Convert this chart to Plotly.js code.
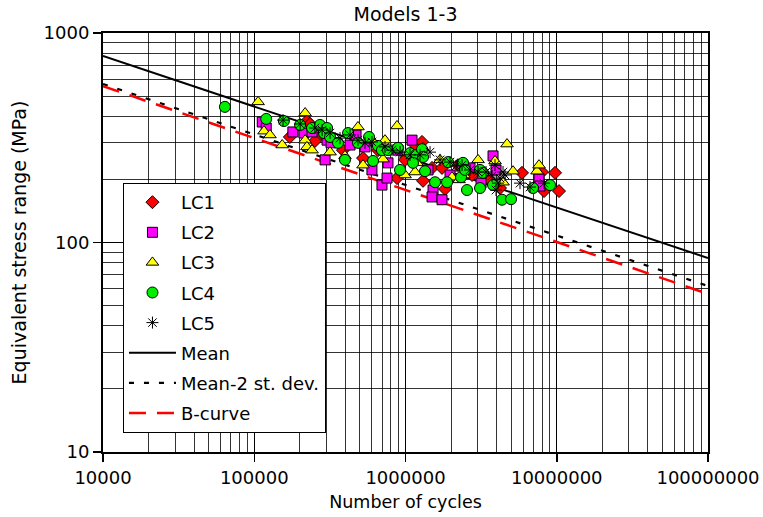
<!DOCTYPE html>
<html>
<head>
<meta charset="utf-8">
<script src="https://cdn.plot.ly/plotly-3.0.1.min.js"></script>
<style>
html,body{margin:0;padding:0;background:#fff;}
#chart{width:763px;height:517px;}
</style>
</head>
<body>
<div id="chart"></div>
<script>
// ---- Data (N = number of cycles, S = equivalent stress range in MPa) ----
const lc1N = [172000,223000,234000,252000,281000,386000,524000,658000,879000,993000,1156000,1286000,1306000,1498000,1744000,1826000,2225000,2754000,3512000,4217000,5893000,7991000,8238000,9741000,10350000];
const lc1S = [319,380,368,305,329,276,253,276,203,248,292,302,197,227,227,180,234,210,203,182,215,217,176,215,176];

const lc2N = [113000,120000,180000,213000,241000,294000,303000,322000,430000,471000,540000,600000,699000,755000,766000,892000,1104000,1409000,1521000,1498000,1744000,1970000,2365000,2671000,3158000,3791000,3968000,7634000,7751000];
const lc2S = [376,352,337,333,337,248,308,299,292,326,286,222,188,203,240,276,308,222,178,165,160,210,234,227,192,259,222,201,186];

const lc3N = [106000,116000,127000,153000,217000,217000,223000,241000,317000,398000,485000,524000,600000,710000,732000,879000,993000,1156000,1192000,1306000,1691000,2030000,2259000,2438000,3017000,3908000,4414000,4690000,5139000,7406000,7634000];
const lc3S = [469,340,326,292,415,308,286,276,270,259,356,234,308,250,308,360,210,217,240,283,248,205,199,210,248,245,194,295,219,219,234];

const lc4N = [64000,120000,157000,201000,241000,272000,303000,289000,317000,358000,417000,485000,574000,658000,699000,766000,610000,398000,892000,1071000,1174000,1286000,1306000,1121000,920000,1346000,1568000,1882000,1910000,2329000,2401000,2475000,3110000,3255000,2551000,3110000,3791000,4347000,4985000,6969000,9028000];
const lc4S = [444,389,380,364,352,364,352,333,319,299,333,299,319,289,276,276,245,248,283,267,262,279,256,240,222,219,194,194,242,205,240,222,222,215,178,182,188,160,161,182,188];

const lc5N = [155000,201000,252000,281000,317000,369000,430000,485000,540000,600000,732000,814000,920000,1071000,1247000,1453000,1691000,1970000,2158000,2365000,2671000,3017000,3407000,3734000,3908000,4090000,4217000,4414000,3968000,4550000,5716000,6658000,8238000];
const lc5S = [384,368,352,344,333,315,326,308,299,302,286,276,270,262,262,270,248,242,232,234,222,217,217,208,234,192,203,217,178,210,192,184,192];

const lineN = [10000, 100000000];
const meanS = [776, 84.3];
const mean2sdS = [571, 62];
const bCurveS = [558, 56.8];

const xTickVals = [10000, 100000, 1000000, 10000000, 100000000];
const xTickText = ['10000', '100000', '1000000', '10000000', '100000000'];
const yTickVals = [10, 100, 1000];
const yTickText = ['10', '100', '1000'];

const FONT = 'DejaVu Sans, Verdana, sans-serif';

function markerTrace(name, xs, ys, symbol, color, size, rank, group) {
  return {
    type: 'scatter', mode: 'markers', name: name, x: xs, y: ys,
    legendrank: rank, legendgroup: group,
    marker: {symbol: symbol, color: color, size: size,
             line: {color: '#000', width: 1}},
    hoverinfo: 'x+y'
  };
}

const traces = [
  {type:'scatter', mode:'lines', name:'Mean', x: lineN, y: meanS, legendrank: 6, legendgroup:'g6',
   line:{color:'#000', width:2}},
  {type:'scatter', mode:'lines', name:'Mean-2 st. dev.', x: lineN, y: mean2sdS, legendrank: 7, legendgroup:'g7',
   line:{color:'#000', width:2.2, dash:'5px,10px'}},
  {type:'scatter', mode:'lines', name:'B-curve', x: lineN, y: bCurveS, legendrank: 8, legendgroup:'g8',
   line:{color:'#ff0000', width:2.5, dash:'17px,11px'}},
  markerTrace('LC1', lc1N, lc1S, 'diamond', '#ff0000', 10, 1, 'g1'),
  markerTrace('LC2', lc2N, lc2S, 'square', '#ff00ff', 10, 2, 'g2'),
  markerTrace('LC3', lc3N, lc3S, 'triangle-up', '#ffff00', 11, 3, 'g3'),
  markerTrace('LC4', lc4N, lc4S, 'circle', '#00ee00', 11, 4, 'g4'),
  {type:'scatter', mode:'markers', name:'LC5', x: lc5N, y: lc5S, legendrank: 5, legendgroup:'g5',
   marker:{symbol:'asterisk-open', color:'#000', size:10, line:{color:'#000', width:1}}}
];

const axisCommon = {
  type: 'log', showline: true, linecolor: '#000', linewidth: 2, mirror: true,
  ticks: 'outside', ticklen: 8, tickwidth: 1.5, tickcolor: '#000',
  showgrid: true, gridcolor: '#000', gridwidth: 1, zeroline: false,
  tickfont: {family: FONT, size: 18, color: '#000'},
  minor: {showgrid: true, gridcolor: '#000', gridwidth: 0.8, dtick: 'D1', ticks: ''}
};

const layout = {
  width: 763, height: 517,
  margin: {l: 103, r: 55, t: 33, b: 65},
  paper_bgcolor: '#fff', plot_bgcolor: '#fff',
  font: {family: FONT, size: 17, color: '#000'},
  title: {text: 'Models 1-3', font: {family: FONT, size: 19, color: '#000'},
          x: 0.5315, xref: 'container', y: 0.972, yref: 'container', yanchor: 'middle', xanchor: 'center'},
  xaxis: Object.assign({}, axisCommon, {
    range: [4, 8], tickmode: 'array', tickvals: xTickVals, ticktext: xTickText,
    title: {text: 'Number of cycles', font: {family: FONT, size: 17.5, color: '#000'}, standoff: 9}
  }),
  yaxis: Object.assign({}, axisCommon, {
    range: [1, 3], tickmode: 'array', tickvals: yTickVals, ticktext: yTickText,
    title: {text: 'Equivalent stress range (MPa)', font: {family: FONT, size: 19, color: '#000'}, standoff: 12}
  }),
  showlegend: true,
  legend: {
    x: 0.033, y: 0.642, xanchor: 'left', yanchor: 'top',
    bgcolor: '#fff', bordercolor: '#000', borderwidth: 1,
    font: {family: FONT, size: 18, color: '#000'},
    traceorder: 'grouped', tracegroupgap: 3.7, itemwidth: 47
  }
};

Plotly.newPlot('chart', traces, layout, {displayModeBar: false, staticPlot: true});
</script>
</body>
</html>
